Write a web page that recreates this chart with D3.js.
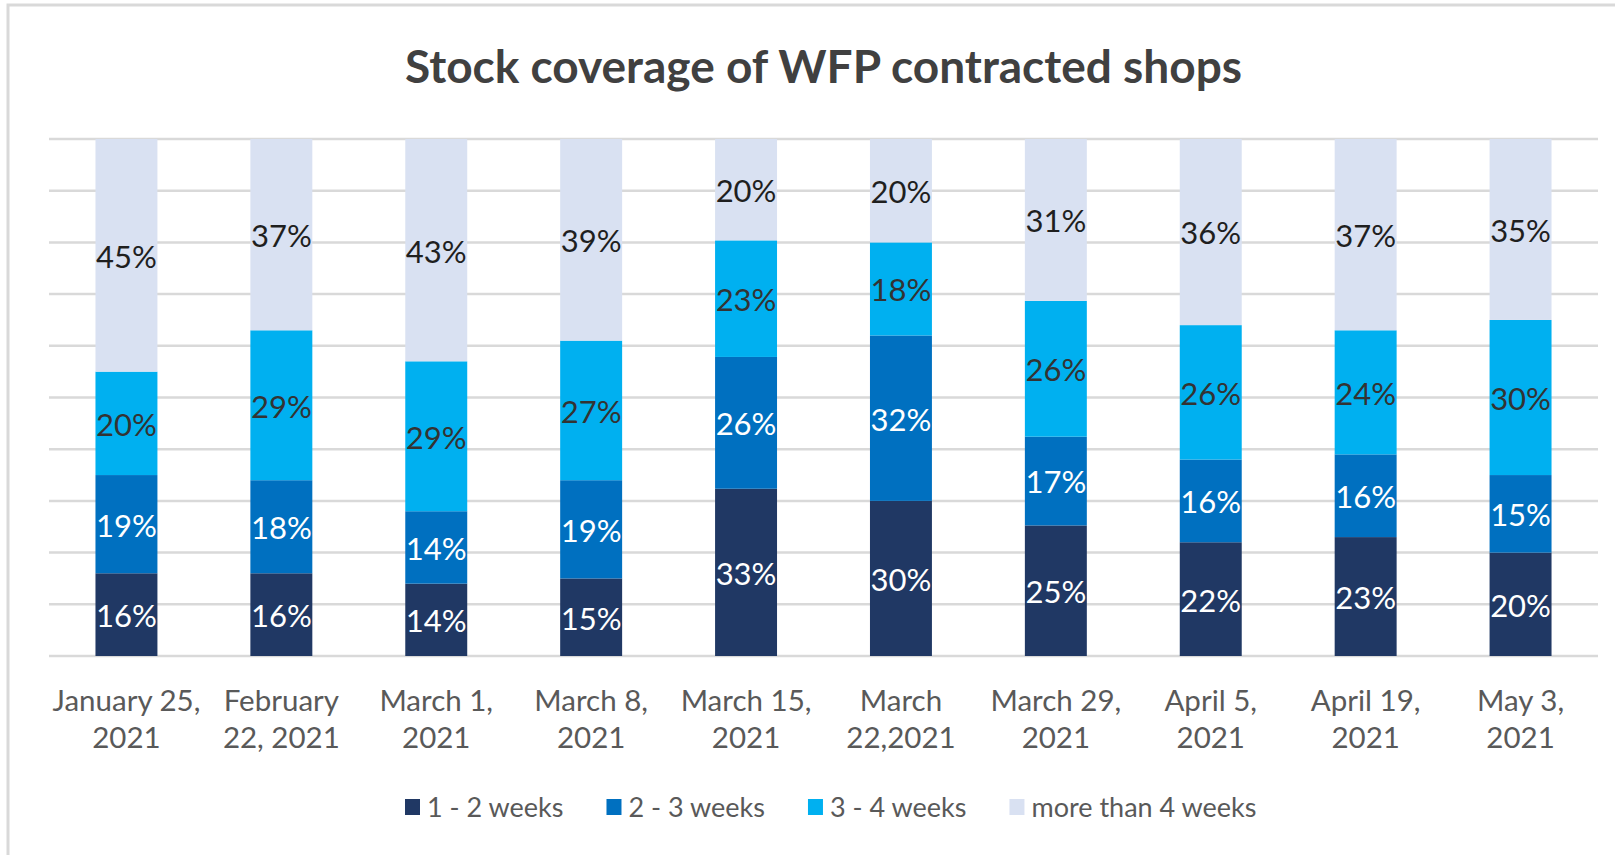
<!DOCTYPE html>
<meta charset="utf-8">
<title>Stock coverage</title>
<style>
body { margin: 0; background: #fff; }
text { font-family: Lato, "Open Sans", sans-serif; }
</style>

<script src="https://d3js.org/d3.v7.min.js"></script>

<div id="chart"></div>

<script>

// survey dates (tick labels, already wrapped into two lines like the original)
var dates = [
  ["January 25,", "2021"],
  ["February", "22, 2021"],
  ["March 1,", "2021"],
  ["March 8,", "2021"],
  ["March 15,", "2021"],
  ["March", "22,2021"],
  ["March 29,", "2021"],
  ["April 5,", "2021"],
  ["April 19,", "2021"],
  ["May 3,", "2021"]
];

// share of shops (%) per stock coverage group
var series = ["1 - 2 weeks", "2 - 3 weeks", "3 - 4 weeks", "more than 4 weeks"];
var weeks1to2 = [16, 16, 14, 15, 33, 30, 25, 22, 23, 20];
var weeks2to3 = [19, 18, 14, 19, 26, 32, 17, 16, 16, 15];
var weeks3to4 = [20, 29, 29, 27, 23, 18, 26, 26, 24, 30];
var weeks4plus = [45, 37, 43, 39, 20, 20, 31, 36, 37, 35];

var colors = ["#203864", "#0070c0", "#00b0f0", "#d9e1f2"];
var labelColors = ["#ffffff", "#ffffff", "#333333", "#1f1f1f"];

var W = 1615, H = 855;
var plotLeft = 49, plotRight = 1598, plotTop = 139, plotBottom = 656;

var svg = d3.select("#chart").append("svg")
  .attr("width", W)
  .attr("height", H);

// chart area border
svg.append("rect")
  .attr("x", 8).attr("y", 5)
  .attr("width", W + 10).attr("height", H + 10)
  .attr("fill", "none")
  .attr("stroke", "#d9d9d9")
  .attr("stroke-width", 3);

// title
svg.append("text")
  .attr("x", (plotLeft + plotRight) / 2)
  .attr("y", 83)
  .attr("text-anchor", "middle")
  .style("font-size", "46px")
  .style("font-weight", "bold")
  .style("fill", "#404040")
  .text("Stock coverage of WFP contracted shops");

// build rows for the stack
var keys = dates.map(function(d, i) { return i; });
var rows = keys.map(function(i) {
  return {
    idx: i,
    s0: weeks1to2[i], s1: weeks2to3[i], s2: weeks3to4[i], s3: weeks4plus[i]
  };
});

var stack = d3.stack()
  .keys(["s0", "s1", "s2", "s3"])
  .offset(d3.stackOffsetExpand);
var stacked = stack(rows);

var x = d3.scaleBand()
  .domain(keys)
  .range([plotLeft, plotRight])
  .paddingInner(0.6)
  .paddingOuter(0.3);

var y = d3.scaleLinear()
  .domain([0, 1])
  .range([plotBottom, plotTop]);

// gridlines
svg.append("g")
  .selectAll("line")
  .data(y.ticks(10))
  .enter()
  .append("line")
    .attr("x1", plotLeft).attr("x2", plotRight)
    .attr("y1", function(d) { return y(d); })
    .attr("y2", function(d) { return y(d); })
    .attr("stroke", "#d9d9d9")
    .attr("stroke-width", 2.5);

// bars
var groups = svg.selectAll(".layer")
  .data(stacked)
  .enter()
  .append("g")
    .attr("class", "layer")
    .attr("fill", function(d, i) { return colors[i]; });

groups.selectAll("rect")
  .data(function(d) { return d; })
  .enter()
  .append("rect")
    .attr("x", function(d) { return x(d.data.idx); })
    .attr("width", x.bandwidth())
    .attr("y", function(d) { return y(d[1]); })
    .attr("height", function(d) { return y(d[0]) - y(d[1]); });

// data labels
var seriesValues = [weeks1to2, weeks2to3, weeks3to4, weeks4plus];
stacked.forEach(function(layer, li) {
  svg.append("g")
    .selectAll("text")
    .data(layer)
    .enter()
    .append("text")
      .attr("x", function(d) { return x(d.data.idx) + x.bandwidth() / 2; })
      .attr("y", function(d) { return (y(d[0]) + y(d[1])) / 2; })
      .attr("dy", "0.4em")
      .attr("text-anchor", "middle")
      .style("font-size", "31px")
      .style("fill", labelColors[li])
      .text(function(d) { return seriesValues[li][d.data.idx] + "%"; });
});

// x axis (labels only, the baseline is the bottom gridline)
var xAxis = svg.append("g")
  .attr("transform", "translate(0," + plotBottom + ")")
  .call(d3.axisBottom(x).tickSize(0).tickFormat(""));
xAxis.select(".domain").remove();

xAxis.selectAll(".tick text").remove();
xAxis.selectAll(".tick")
  .append("text")
    .attr("text-anchor", "middle")
    .style("font-size", "29.5px")
    .style("fill", "#595959")
    .selectAll("tspan")
    .data(function(d) { return dates[d]; })
    .enter()
    .append("tspan")
      .attr("x", 0)
      .attr("y", function(d, i) { return 55 + i * 37; })
      .text(function(d) { return d; });

// legend
var legend = svg.append("g").attr("transform", "translate(405,807)");
var lx = 0;
series.forEach(function(name, i) {
  var g = legend.append("g").attr("transform", "translate(" + lx + ",0)");
  g.append("rect")
    .attr("x", 0).attr("y", -8)
    .attr("width", 15).attr("height", 16)
    .attr("fill", colors[i]);
  var t = g.append("text")
    .attr("x", 22)
    .attr("dy", "0.36em")
    .style("font-size", "27px")
    .style("fill", "#595959")
    .text(name);
  lx += 22 + t.node().getComputedTextLength() + 43;
});

</script>
